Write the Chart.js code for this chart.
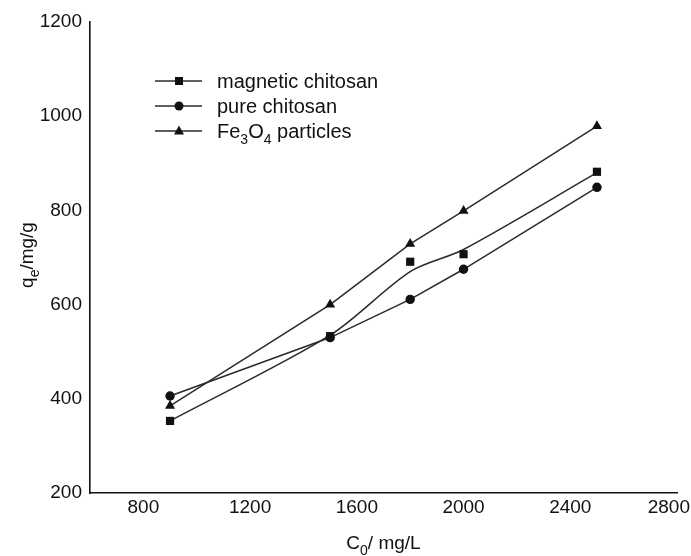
<!DOCTYPE html>
<html>
<head>
<meta charset="utf-8">
<script src="https://cdn.jsdelivr.net/npm/chart.js"></script>
<style>
  body { margin: 0; background: #fff; }
  #wrap { width: 691px; height: 556px; }
</style>
</head>
<body>
<div id="wrap"><canvas id="myChart" width="691" height="556"></canvas></div>
<script>
// values
const xValues = [900, 1500, 1800, 2000, 2500];
const magneticChitosan = [353, 533, 691, 707, 882];
const magneticCurve = [353, 535, 670, 717, 880];
const pureChitosan = [406, 530, 611, 675, 849];
const fe3o4Particles = [385, 600, 729, 799, 979];
const xTicks = [800, 1200, 1600, 2000, 2400, 2800];
const yTicks = [200, 400, 600, 800, 1000, 1200];

const FONT = '"Liberation Sans", Arial, sans-serif';
const ink = '#111';
const lineCol = '#2a2a2a';

const pts = (ys) => xValues.map((x, i) => ({ x: x, y: ys[i] }));

// text with subscripts, parts = [[text, isSub], ...]
function drawParts(ctx, parts, x, y, size, align) {
  const subSize = Math.round(size * 0.72);
  let w = 0;
  parts.forEach(p => {
    ctx.font = (p[1] ? subSize : size) + 'px ' + FONT;
    w += ctx.measureText(p[0]).width;
  });
  let cx = align === 'center' ? x - w / 2 : x;
  ctx.textAlign = 'left';
  ctx.textBaseline = 'alphabetic';
  parts.forEach(p => {
    ctx.font = (p[1] ? subSize : size) + 'px ' + FONT;
    ctx.fillText(p[0], cx, p[1] ? y + size * 0.3 : y);
    cx += ctx.measureText(p[0]).width;
  });
}

function marker(ctx, style, x, y) {
  ctx.beginPath();
  if (style === 'rect') {
    ctx.rect(x - 4, y - 4, 8, 8);
  } else if (style === 'circle') {
    ctx.arc(x, y, 4.5, 0, Math.PI * 2);
  } else {
    ctx.moveTo(x, y - 5.5);
    ctx.lineTo(x + 5, y + 3.5);
    ctx.lineTo(x - 5, y + 3.5);
    ctx.closePath();
  }
  ctx.fill();
}

const overlay = {
  id: 'overlay',
  afterDraw(chart) {
    const ctx = chart.ctx;
    const xs = chart.scales.x;
    ctx.save();
    ctx.fillStyle = ink;

    // last x tick label sits inside the canvas in the original
    ctx.font = '19px ' + FONT;
    ctx.textAlign = 'right';
    ctx.textBaseline = 'top';
    ctx.fillText('2800', 690, 498);

    // axis titles
    drawParts(ctx, [['C', false], ['0', true], ['/ mg/L', false]],
      (xs.left + xs.right) / 2, 549, 19, 'center');
    ctx.save();
    ctx.translate(33, 255);
    ctx.rotate(-Math.PI / 2);
    drawParts(ctx, [['q', false], ['e', true], ['/mg/g', false]], 0, 0, 19, 'center');
    ctx.restore();

    // legend
    const rows = [
      { style: 'rect', parts: [['magnetic chitosan', false]] },
      { style: 'circle', parts: [['pure chitosan', false]] },
      { style: 'triangle', parts: [['Fe', false], ['3', true], ['O', false], ['4', true], [' particles', false]] }
    ];
    rows.forEach((r, i) => {
      const y = 81 + i * 25;
      ctx.strokeStyle = lineCol;
      ctx.lineWidth = 1.5;
      ctx.beginPath();
      ctx.moveTo(155, y);
      ctx.lineTo(202, y);
      ctx.stroke();
      ctx.fillStyle = ink;
      marker(ctx, r.style, 179, y);
      drawParts(ctx, r.parts, 217, y + 7, 20, 'left');
    });
    ctx.restore();
  }
};

new Chart(document.getElementById('myChart'), {
  type: 'scatter',
  data: {
    datasets: [
      {
        label: 'magnetic chitosan',
        data: pts(magneticChitosan),
        showLine: false,
        pointStyle: 'rect',
        pointRadius: 5.8,
        backgroundColor: ink,
        borderWidth: 0
      },
      {
        label: 'magnetic chitosan curve',
        data: pts(magneticCurve),
        showLine: true,
        tension: 0.3,
        pointRadius: 0,
        borderColor: lineCol,
        borderWidth: 1.5
      },
      {
        label: 'pure chitosan',
        data: pts(pureChitosan),
        showLine: true,
        pointStyle: 'circle',
        pointRadius: 4.7,
        backgroundColor: ink,
        pointBorderWidth: 0,
        borderColor: lineCol,
        borderWidth: 1.5
      },
      {
        label: 'Fe3O4 particles',
        data: pts(fe3o4Particles),
        showLine: true,
        pointStyle: 'triangle',
        pointRadius: 5.8,
        backgroundColor: ink,
        pointBorderWidth: 0,
        borderColor: lineCol,
        borderWidth: 1.5
      }
    ]
  },
  options: {
    responsive: false,
    animation: false,
    layout: { padding: { top: 22, right: 14, left: 0, bottom: 0 } },
    plugins: {
      legend: { display: false },
      tooltip: { enabled: false }
    },
    scales: {
      x: {
        type: 'linear',
        min: 600,
        max: 2800,
        afterBuildTicks: (scale) => { scale.ticks = xTicks.map(v => ({ value: v })); },
        afterFit: (scale) => { scale.height = 63; scale.paddingRight = 0; scale.paddingLeft = 0; },
        grid: { display: false, drawTicks: false },
        border: { display: true, color: '#111', width: 1.6 },
        ticks: {
          padding: 3,
          color: ink,
          font: { family: FONT, size: 19 },
          maxRotation: 0,
          autoSkip: false,
          callback: (v) => v === 2800 ? '' : String(v)
        }
      },
      y: {
        min: 200,
        max: 1200,
        afterBuildTicks: (scale) => { scale.ticks = yTicks.map(v => ({ value: v })); },
        afterFit: (scale) => { scale.width = 90; },
        grid: { display: false, drawTicks: false },
        border: { display: true, color: '#111', width: 1.6 },
        ticks: {
          padding: 8,
          color: ink,
          font: { family: FONT, size: 19 },
          autoSkip: false,
          callback: (v) => String(v)
        }
      }
    }
  },
  plugins: [overlay]
});
</script>
</body>
</html>
